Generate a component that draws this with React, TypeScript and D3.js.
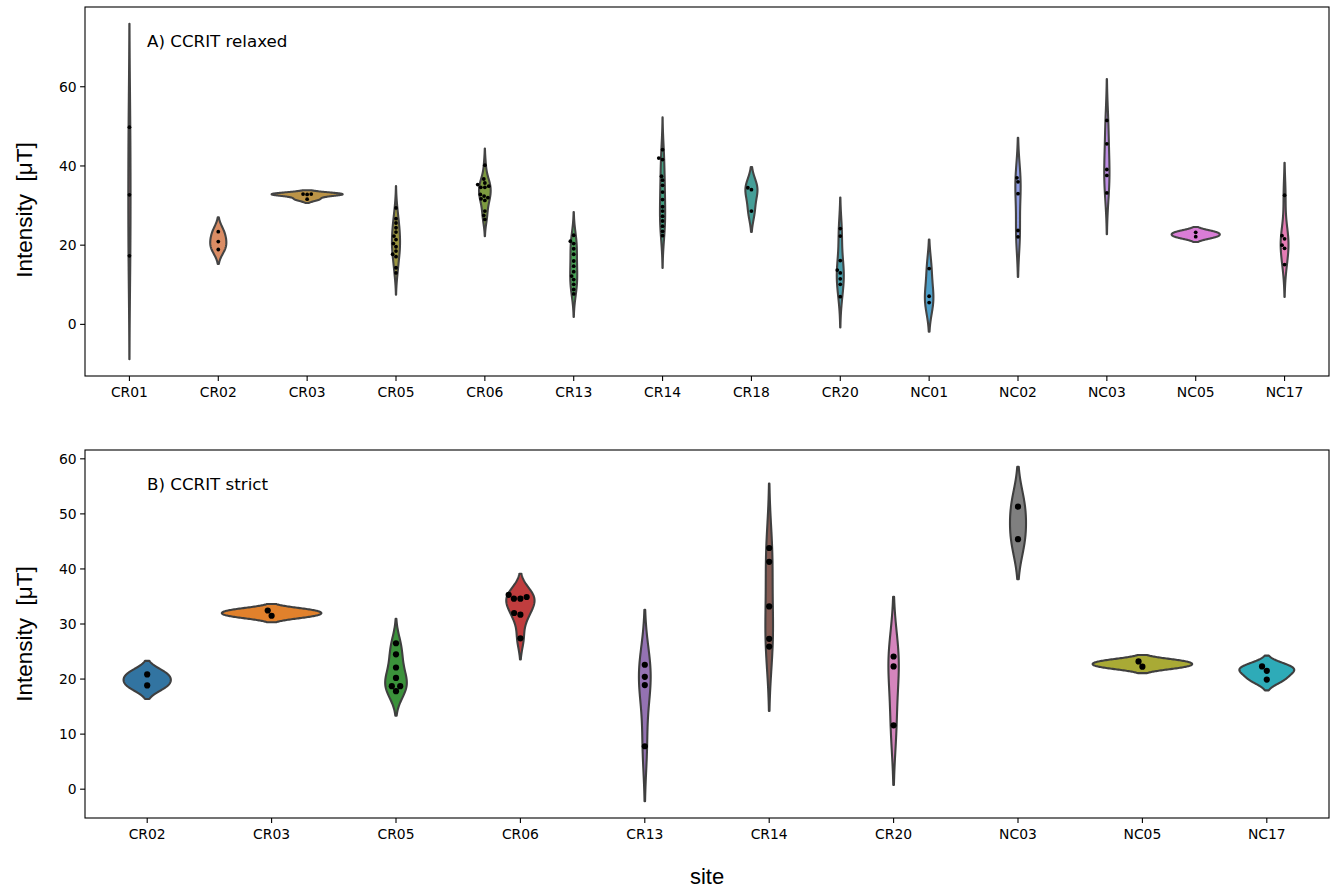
import React from "react";
import * as d3 from "d3";

// ---------- data ----------
const sitesRelaxed = ["CR01", "CR02", "CR03", "CR05", "CR06", "CR13", "CR14", "CR18", "CR20", "NC01", "NC02", "NC03", "NC05", "NC17"];
const relaxedValues: number[][] = [
  [49.8, 32.7, 17.3],
  [23.4, 20.9, 18.9],
  [32.9, 32.9, 32.8, 31.6],
  [29.4, 26.7, 25.6, 24.4, 23.3, 22.3, 21.4, 20.4, 19.6, 18.5, 17.7, 17.1, 14.3, 13.0],
  [40.2, 36.7, 35.7, 35.3, 34.9, 34.6, 34.6, 32.8, 32.4, 32.0, 31.7, 31.3, 28.6, 27.5, 26.5],
  [22.5, 21.0, 20.4, 19.1, 17.7, 16.0, 14.7, 13.3, 12.2, 11.3, 10.1, 8.8, 7.7],
  [44.1, 42.0, 41.6, 37.4, 36.4, 35.1, 33.4, 31.5, 29.7, 28.6, 27.3, 26.1, 24.8, 23.5, 22.4],
  [34.5, 34.0, 28.6],
  [24.2, 22.3, 16.1, 13.7, 13.0, 11.5, 10.1, 7.0],
  [14.1, 7.1, 5.5],
  [37.0, 36.0, 33.0, 23.7, 22.1],
  [51.5, 45.6, 39.1, 37.6, 33.2],
  [23.25, 22.15],
  [32.6, 22.4, 21.6, 20.0, 19.2, 15.1],
];

const sitesStrict = ["CR02", "CR03", "CR05", "CR06", "CR13", "CR14", "CR20", "NC03", "NC05", "NC17"];
const strictValues: number[][] = [
  [20.85, 18.85],
  [32.45, 31.5],
  [26.5, 24.5, 22.1, 20.2, 18.7, 18.7, 17.8],
  [35.3, 34.9, 34.6, 34.6, 32.0, 31.7, 27.4],
  [22.6, 20.4, 18.9, 7.8],
  [43.8, 41.3, 33.2, 27.3, 25.9],
  [24.1, 22.3, 11.6],
  [51.3, 45.4],
  [23.2, 22.25],
  [22.3, 21.5, 19.9],
];

const yTicksRelaxed = [0, 20, 40, 60];
const yTicksStrict = [0, 10, 20, 30, 40, 50, 60];

// ---------- styles ----------
const paletteRelaxed = ["#f77189", "#ee8550", "#cf9a34", "#a9a131", "#82aa31", "#39b04c", "#33ae86", "#36ada4", "#38aabb", "#39a6de", "#8396f4", "#c07ff4", "#e86ee4", "#f66bb5"];
const paletteStrict = ["#1f77b4", "#ff7f0e", "#2ca02c", "#d62728", "#9467bd", "#8c564b", "#e377c2", "#7f7f7f", "#bcbd22", "#17becf"];

const W = 1330;
const H = 888;
const LEFT = 85;
const RIGHT = 1329;
const TICK_FONT = "'DejaVu Sans', sans-serif";
const LABEL_FONT = "'Liberation Sans', Arial, sans-serif";

function desaturate(c: string, p: number) {
  const h = d3.hsl(c);
  h.s = h.s * p;
  return h.formatHex();
}

function kde(values: number[]) {
  const n = values.length;
  const sd = d3.deviation(values) as number;
  const bw = Math.pow(n, -0.2) * sd;
  const lo = (d3.min(values) as number) - 2 * bw;
  const hi = (d3.max(values) as number) + 2 * bw;
  const grid = d3.range(100).map((i) => lo + ((hi - lo) * i) / 99);
  const dens = grid.map(
    (g) => (d3.mean(values, (v) => Math.exp(-0.5 * ((g - v) / bw) ** 2) / Math.sqrt(2 * Math.PI)) as number) / bw
  );
  return { grid, dens };
}

function swarm(vals: number[], py: (v: number) => number, d: number) {
  const pts = vals.map((v) => ({ v, y: py(v), dx: 0 })).sort((a, b) => a.v - b.v);
  const placed: { v: number; y: number; dx: number }[] = [];
  for (const p of pts) {
    const nb = placed.filter((q) => Math.abs(q.y - p.y) < d);
    const cands = [0];
    for (const q of nb) {
      const off = Math.sqrt(d * d - (q.y - p.y) ** 2);
      cands.push(q.dx - off, q.dx + off);
    }
    cands.sort((a, b) => Math.abs(a) - Math.abs(b));
    const ok = cands.find((c) => nb.every((q) => (q.dx - c) ** 2 + (q.y - p.y) ** 2 >= d * d - 1e-6));
    p.dx = ok === undefined ? 0 : ok;
    placed.push(p);
  }
  return placed;
}

type PanelProps = {
  top: number;
  bottom: number;
  sites: string[];
  values: number[][];
  palette: string[];
  ticks: number[];
  title: string;
  r: number;
  stroke: string;
  labelCenter: number;
};

function Panel({ top, bottom, sites, values, palette, ticks, title, r, stroke, labelCenter }: PanelProps) {
  const x = d3.scaleBand().domain(sites).range([LEFT, RIGHT]).padding(0);
  const stats = values.map(kde);
  const lo = d3.min(stats, (s) => s.grid[0]) as number;
  const hi = d3.max(stats, (s) => s.grid[s.grid.length - 1]) as number;
  const pad = (hi - lo) * 0.05;
  const y = d3.scaleLinear().domain([lo - pad, hi + pad]).range([bottom, top]);
  const maxD = d3.max(stats, (s) => d3.max(s.dens) as number) as number;
  const half = (x.bandwidth() * 0.8) / 2;

  return (
    <g>
      {sites.map((site, i) => {
        const cx = (x(site) as number) + x.bandwidth() / 2;
        const s = stats[i];
        const rows = s.grid.map((g, k) => ({ g, w: (s.dens[k] / maxD) * half }));
        const area = d3
          .area<{ g: number; w: number }>()
          .x0((d) => cx - d.w)
          .x1((d) => cx + d.w)
          .y((d) => y(d.g));
        const pts = swarm(values[i], (v) => y(v), 2 * r + 0.3);
        return (
          <g key={site}>
            <path
              d={area(rows) as string}
              fill={desaturate(palette[i], 0.75)}
              stroke={stroke}
              strokeWidth={2.1}
              strokeLinejoin="round"
            />
            {pts.map((p, k) => (
              <circle key={k} cx={cx + p.dx} cy={p.y} r={r} fill="#000" />
            ))}
          </g>
        );
      })}
      {/* frame */}
      <rect x={LEFT} y={top} width={RIGHT - LEFT} height={bottom - top} fill="none" stroke="#000" strokeWidth={1.1} />
      {/* y ticks */}
      {ticks.map((t) => (
        <g key={t}>
          <line x1={LEFT - 4.9} x2={LEFT} y1={y(t)} y2={y(t)} stroke="#000" strokeWidth={1.1} />
          <text
            x={LEFT - 8.4}
            y={y(t)}
            dy="0.36em"
            textAnchor="end"
            fontFamily={TICK_FONT}
            fontSize={13.9}
            fill="#000"
          >
            {t}
          </text>
        </g>
      ))}
      {/* x ticks */}
      {sites.map((site) => {
        const cx = (x(site) as number) + x.bandwidth() / 2;
        return (
          <g key={site}>
            <line x1={cx} x2={cx} y1={bottom} y2={bottom + 4.9} stroke="#000" strokeWidth={1.1} />
            <text x={cx} y={bottom + 21} textAnchor="middle" fontFamily={TICK_FONT} fontSize={13.9} fill="#000">
              {site}
            </text>
          </g>
        );
      })}
      <text x={147} y={top + 40} fontFamily={TICK_FONT} fontSize={16.7} fill="#000">
        {title}
      </text>
      <text
        transform={`translate(32,${labelCenter}) rotate(-90)`}
        textAnchor="middle"
        fontFamily={LABEL_FONT}
        fontSize={22.5}
        fill="#000"
        style={{ whiteSpace: "pre" }}
      >
        {"Intensity  [μT]"}
      </text>
    </g>
  );
}

export default function App() {
  return (
    <svg width={W} height={H} viewBox={`0 0 ${W} ${H}`} style={{ display: "block", position: "absolute", left: 0, top: 0, background: "#fff" }}>
      <rect x={0} y={0} width={W} height={H} fill="#fff" />
      <Panel
        top={7}
        bottom={376}
        sites={sitesRelaxed}
        values={relaxedValues}
        palette={paletteRelaxed}
        ticks={yTicksRelaxed}
        title="A) CCRIT relaxed"
        r={1.9}
        stroke="#444444"
        labelCenter={210}
      />
      <Panel
        top={450}
        bottom={818}
        sites={sitesStrict}
        values={strictValues}
        palette={paletteStrict}
        ticks={yTicksStrict}
        title="B) CCRIT strict"
        r={3.1}
        stroke="#3f3f3f"
        labelCenter={634}
      />
      <text x={(LEFT + RIGHT) / 2} y={884} textAnchor="middle" fontFamily={LABEL_FONT} fontSize={22} fill="#000">
        site
      </text>
    </svg>
  );
}
